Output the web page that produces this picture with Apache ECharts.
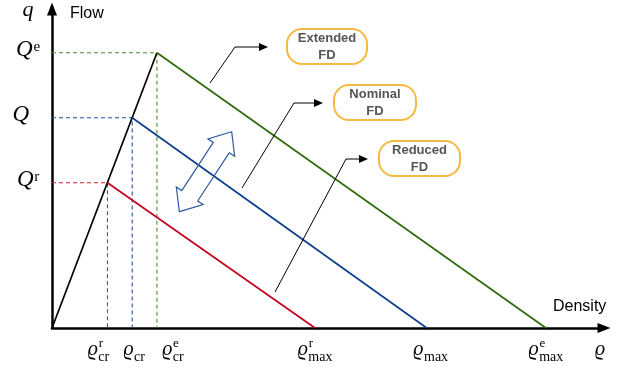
<!DOCTYPE html>
<html>
<head>
<meta charset="utf-8">
<script src="https://cdn.jsdelivr.net/npm/echarts@6/dist/echarts.min.js"></script>
<style>
  html, body { margin: 0; padding: 0; background: #ffffff; }
  #chart { width: 633px; height: 375px; }
</style>
</head>
<body>
<div id="chart"></div>
<script>
// Triangular fundamental diagrams: reduced, nominal and extended capacity
const fdNames = ['Reduced FD', 'Nominal FD', 'Extended FD'];
const boxLabels = ['Reduced\nFD', 'Nominal\nFD', 'Extended\nFD'];
const critDensity = [14.8, 21.4, 28.0];   // ϱ_cr^r, ϱ_cr, ϱ_cr^e
const jamDensity = [70.2, 100, 131.8];    // ϱ_max^r, ϱ_max, ϱ_max^e
const capacity = [69.1, 100, 130.9];      // Q^r, Q, Q^e
const markSup = ['r', '', 'e'];
const flowTickBase = 'Q';
const densityTickBase = 'ϱ';
const critSub = 'cr';
const jamSub = 'max';
const axisTitles = { x: 'Density', y: 'Flow', xSym: 'ϱ', ySym: 'q' };

// ---- styling / layout ----
const solidColors = ['#c3001f', '#0d3e8e', '#2f6b0d'];
const dashColors = ['#d41f3a', '#1f4fa4', '#4f8b30'];
const serif = "'Liberation Serif', 'DejaVu Serif', serif";
const sans = "'Liberation Sans', Arial, Helvetica, sans-serif";
const X_MAX = 147.3, Y_MAX = 151.7;
const critNudge = [-9, 2, 16];
const jamNudge = [0, 4, 0];
const flowNudge = [0, -7, 0];

const chart = echarts.init(document.getElementById('chart'), null, { renderer: 'canvas' });

const series = [];
// dashed guides to capacity and critical density
critDensity.forEach((rc, i) => {
  series.push({
    name: fdNames[i] + ' guide',
    type: 'line',
    data: [[0, capacity[i]], [rc, capacity[i]], [rc, 0]],
    symbol: 'none',
    silent: true,
    lineStyle: { color: dashColors[i], width: 1.1, type: [4, 3] },
    z: 2
  });
});
// free-flow branch shared by all diagrams
series.push({
  name: 'Free flow',
  type: 'line',
  data: [[0, 0], [critDensity[2], capacity[2]]],
  symbol: 'none',
  lineStyle: { color: '#000000', width: 1.7 },
  z: 3
});
// congested branches
critDensity.forEach((rc, i) => {
  series.push({
    name: fdNames[i],
    type: 'line',
    data: [[rc, capacity[i]], [jamDensity[i], 0]],
    symbol: 'none',
    lineStyle: { color: solidColors[i], width: 1.7 },
    z: 3
  });
});

const axisCommon = {
  type: 'value',
  min: 0,
  axisLine: {
    show: true,
    symbol: ['none', 'triangle'],
    symbolSize: [10, 13],
    lineStyle: { color: '#000000', width: 2.5 }
  },
  axisTick: { show: false },
  axisLabel: { show: false },
  splitLine: { show: false }
};

chart.setOption({
  animation: false,
  backgroundColor: '#ffffff',
  grid: { left: 52, right: 29, top: 9, bottom: 47 },
  xAxis: Object.assign({}, axisCommon, { max: X_MAX }),
  yAxis: Object.assign({}, axisCommon, { max: Y_MAX }),
  series: series
});

// ---- text and annotation layer ----
const cnv = document.createElement('canvas').getContext('2d');
function textWidth(t, font) { cnv.font = font; return cnv.measureText(t).width; }
const px = (x, y) => chart.convertToPixel({ gridIndex: 0 }, [x, y]);

function txt(x, baseline, text, size, family, opts) {
  opts = opts || {};
  return {
    type: 'text',
    x: x,
    y: baseline - 0.34 * size,
    silent: true,
    style: {
      text: text,
      fontSize: size,
      fontFamily: family,
      fontStyle: opts.italic ? 'italic' : 'normal',
      fontWeight: opts.bold ? 'bold' : 'normal',
      fill: opts.color || '#000000',
      align: opts.align || 'left',
      verticalAlign: 'middle'
    }
  };
}

// symbol with stacked super/subscript, centered on cx
function symbolLabel(cx, base, main, sub, sup, sz) {
  const mainFont = 'italic ' + sz.main + 'px ' + serif;
  const wMain = textWidth(main, mainFont);
  const wSub = sub ? textWidth(sub, sz.sub + 'px ' + serif) : 0;
  const wSup = sup ? textWidth(sup, sz.sup + 'px ' + serif) : 0;
  const total = wMain + Math.max(wSub, wSup) + 0.5;
  const left = cx - total / 2;
  const out = [txt(left, base, main, sz.main, serif, { italic: true })];
  if (sub) out.push(txt(left + wMain + 0.5, base + sz.subDrop, sub, sz.sub, serif));
  if (sup) out.push(txt(left + wMain + 0.8, base - sz.supRise, sup, sz.sup, serif));
  return out;
}

const elements = [];
const origin = px(0, 0);
const xSize = { main: 20, sub: 14, sup: 13, subDrop: 5.5, supRise: 9 };
const ySize = { main: 23, sub: 14, sup: 15, subDrop: 0, supRise: 5.5 };

critDensity.forEach((rc, i) => {
  const p = px(rc, 0);
  elements.push(...symbolLabel(p[0] + critNudge[i], origin[1] + 29, densityTickBase, critSub, markSup[i], xSize));
});
jamDensity.forEach((rm, i) => {
  const p = px(rm, 0);
  elements.push(...symbolLabel(p[0] + jamNudge[i], origin[1] + 29, densityTickBase, jamSub, markSup[i], xSize));
});
capacity.forEach((qc, i) => {
  const p = px(0, qc);
  elements.push(...symbolLabel(28 + flowNudge[i], p[1] + 4.8, flowTickBase, '', markSup[i], ySize));
});

// axis titles
elements.push(txt(28, 17.5, axisTitles.ySym, 22, serif, { italic: true, align: 'center' }));
elements.push(txt(70, 19, axisTitles.y, 16, sans));
elements.push(txt(553, 312.5, axisTitles.x, 16, sans));
elements.push(txt(600, 357, axisTitles.xSym, 20, serif, { italic: true, align: 'center' }));

// callout boxes with leader arrows (index order follows fdNames)
const boxes = [[379, 141, 81, 35], [334, 85, 82, 35], [287, 29, 80, 35]];
const leaders = [
  [[275, 292], [346, 159], [368, 159]],
  [[242, 188], [294, 103], [323, 103]],
  [[210, 83], [235, 47], [268, 47]]
];
boxes.forEach((b, i) => {
  elements.push({
    type: 'rect',
    silent: true,
    shape: { x: b[0], y: b[1], width: b[2], height: b[3], r: 15 },
    style: { fill: '#ffffff', stroke: '#f6b940', lineWidth: 2 },
    z: 10
  });
  elements.push({
    type: 'text',
    silent: true,
    x: b[0] + b[2] / 2,
    y: b[1] + b[3] / 2 + 0.5,
    z: 11,
    style: {
      text: boxLabels[i],
      fontSize: 13,
      fontWeight: 'bold',
      fontFamily: sans,
      fill: '#555555',
      align: 'center',
      verticalAlign: 'middle',
      lineHeight: 16.5
    }
  });
  const pts = leaders[i];
  const tip = pts[pts.length - 1];
  elements.push({
    type: 'polyline',
    silent: true,
    shape: { points: pts.slice(0, -1).concat([[tip[0] - 6, tip[1]]]) },
    style: { stroke: '#000000', lineWidth: 1, fill: null },
    z: 10
  });
  elements.push({
    type: 'polygon',
    silent: true,
    shape: { points: [[tip[0], tip[1]], [tip[0] - 9, tip[1] - 4], [tip[0] - 9, tip[1] + 4]] },
    style: { fill: '#000000' },
    z: 10
  });
});

// hollow double-headed arrow between the diagrams
(function () {
  const half = 47.8, headLen = 19, headW = 16, shaftW = 9.5;
  const k = half - headLen;
  elements.push({
    type: 'polygon',
    silent: true,
    x: 205.5,
    y: 171.7,
    rotation: 56.8 * Math.PI / 180,
    shape: {
      points: [
        [half, 0], [k, -headW], [k, -shaftW], [-k, -shaftW], [-k, -headW],
        [-half, 0], [-k, headW], [-k, shaftW], [k, shaftW], [k, headW]
      ]
    },
    style: { fill: null, stroke: '#2d5c9c', lineWidth: 1.2 },
    z: 9
  });
})();

chart.setOption({ graphic: { elements: elements } });
</script>
</body>
</html>
